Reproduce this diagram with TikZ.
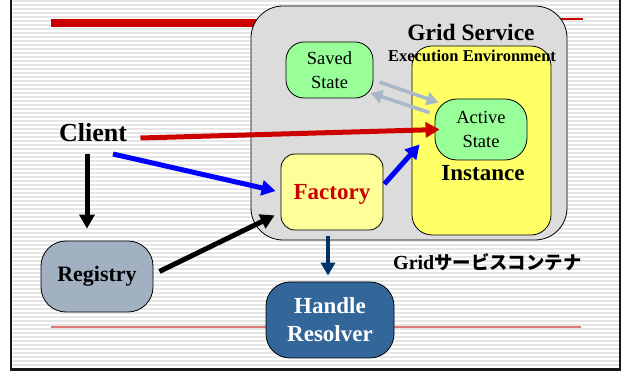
\documentclass[tikz,border=0pt]{standalone}
\usepackage{fontspec}
\setmainfont{Liberation Serif}
\newfontfamily\jpfont{Noto Sans CJK JP}
\usetikzlibrary{arrows.meta}

\definecolor{hdrred}{HTML}{CC0000}
\definecolor{rulered}{HTML}{E07878}
\definecolor{stripegray}{HTML}{E6E6E6}
\definecolor{containergray}{HTML}{DCDCDC}
\definecolor{envyellow}{HTML}{FFFF66}
\definecolor{factoryyellow}{HTML}{FFFF99}
\definecolor{stategreen}{HTML}{99FF99}
\definecolor{registrygray}{HTML}{A2B1C1}
\definecolor{resolverblue}{HTML}{336699}
\definecolor{navy}{HTML}{003366}
\definecolor{pathgray}{HTML}{A8B8C8}
\definecolor{pureblue}{HTML}{0000FF}

\begin{document}
\begin{tikzpicture}[x=1pt,y=-1pt,
  box/.style={draw=black, line width=0.8pt, rectangle, inner sep=0pt, align=center},
  serifbig/.style={font=\bfseries\fontsize{23}{28}\selectfont},
  statefont/.style={font=\fontsize{18.5}{24.5}\selectfont},
  bigarrow/.style={line width=5pt, -{Triangle[length=14pt,width=15pt]}},
  thinarrow/.style={line width=3.5pt, pathgray, -{Triangle[length=12pt,width=13pt]}}
]
\useasboundingbox (0,0) rectangle (625,371);

% striped slide background inside the frame
\fill[white] (11,0) rectangle (620,370);
\foreach \yy in {1,5,...,369}
  \draw[stripegray, line width=1.4pt] (11,\yy) -- (620,\yy);

% header and footer rules
\draw[hdrred, line width=8pt] (51,23) -- (300,23);
\draw[hdrred, line width=1.6pt] (300,19) -- (583,19);
\draw[rulered, line width=1.6pt] (51,327) -- (581,327);

% frame
\draw[black!90, line width=2.6pt] (11,0) -- (11,369.5) -- (620,369.5) -- (620,0);

% grid service container
\node[box, fill=containergray, rounded corners=32pt, minimum width=316pt, minimum height=234pt]
  (container) at (409,123) {};
\node[font=\bfseries\fontsize{23.5}{28}\selectfont] (gridservice) at (471,32) {Grid Service};

% execution environment
\node[box, fill=envyellow, rounded corners=20pt, minimum width=139pt, minimum height=189pt]
  (env) at (481.5,140.5) {};
\node[font=\bfseries\fontsize{16.5}{20}\selectfont] (envlabel) at (472,56) {Execution Environment};
\node[serifbig] (instance) at (483,173) {Instance};

% states
\node[box, fill=stategreen, rounded corners=18pt, minimum width=87pt, minimum height=56pt, statefont]
  (saved) at (329.5,70) {Saved\\State};
\node[box, fill=stategreen, rounded corners=22pt, minimum width=92pt, minimum height=61pt, statefont]
  (active) at (481,129.5) {Active\\State};

% factory
\node[box, fill=factoryyellow, rounded corners=14pt, minimum width=102pt, minimum height=76pt]
  (factory) at (332,192) {};
\node[serifbig, text=hdrred] (factorylabel) at (332,194) {Factory};

% client, registry, handle resolver
\node[font=\bfseries\fontsize{26}{30}\selectfont] (client) at (93,133) {Client};
\node[box, fill=registrygray, rounded corners=25pt, minimum width=112pt, minimum height=71pt,
  font=\bfseries\fontsize{22}{26}\selectfont] (registry) at (97,276.5) {Registry};
\node[box, fill=resolverblue, rounded corners=24pt, minimum width=128pt, minimum height=76pt,
  serifbig, text=white] (resolver) at (330,320) {Handle\\Resolver};

% container caption
\node[anchor=west, inner sep=0pt] (caption) at (393,262)
  {\bfseries\fontsize{20}{24}\selectfont Grid{\jpfont\bfseries\fontsize{18.4}{24}\selectfont サービスコンテナ}};

% state transfer
\draw[thinarrow] ([shift={(6,12)}]saved.east) -- ([shift={(4,4)}]active.north west);
\draw[thinarrow] ([shift={(-5,14)}]active.north west) -- ([shift={(-3,23)}]saved.east);

% request paths
\draw[bigarrow, hdrred] ([shift={(10,5)}]client.east) -- ([shift={(5,0)}]active.west);
\draw[bigarrow, pureblue] ([shift={(20,21)}]client.center) -- ([shift={(-5,-1)}]factory.west);
\draw[bigarrow, pureblue] ([shift={(1,-8)}]factory.east) -- ([shift={(-15,-16)}]active.south west);
\draw[bigarrow, black] ([shift={(-6,8)}]client.south) -- ([shift={(-10,-12)}]registry.north);
\draw[bigarrow, black] ([shift={(6,-5)}]registry.east) -- ([shift={(-6,-15)}]factory.south west);
\draw[line width=4.5pt, navy, -{Triangle[length=13pt,width=14pt]}]
  ([shift={(-4,6)}]factory.south) -- ([shift={(-2,-6)}]resolver.north);
\end{tikzpicture}
\end{document}
